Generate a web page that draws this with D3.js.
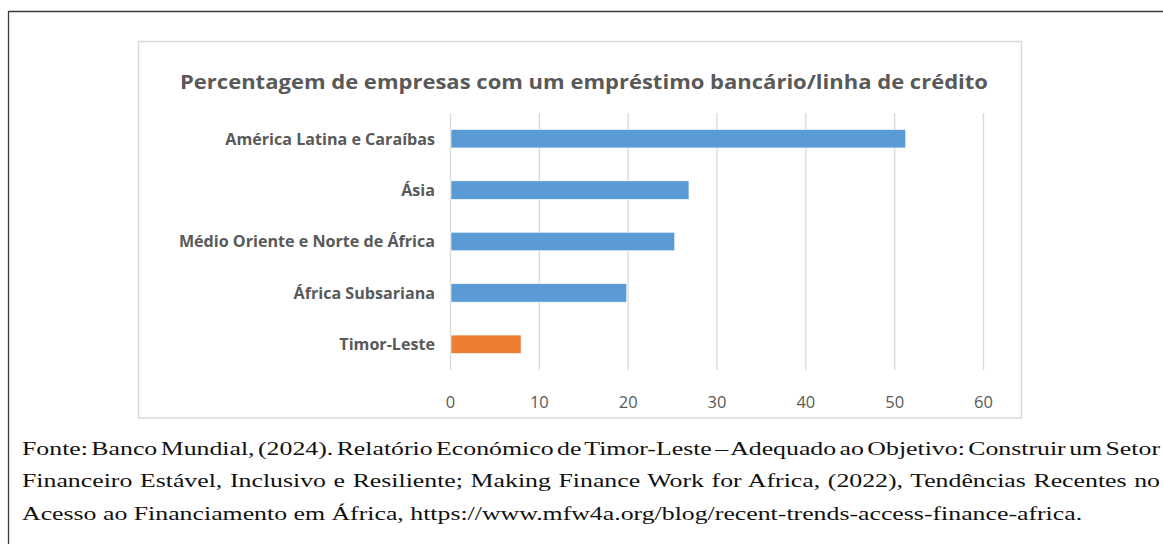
<!DOCTYPE html>
<html>
<head>
<meta charset="utf-8">
<script src="https://cdn.jsdelivr.net/npm/d3@7"></script>
<style>
  html, body { margin: 0; padding: 0; background: #fff; }
  svg { display: block; }
</style>
</head>
<body>
<svg id="chart" width="1163" height="544"></svg>
<script>
const title = "Percentagem de empresas com um empréstimo bancário/linha de crédito";
const categories = ["América Latina e Caraíbas", "Ásia", "Médio Oriente e Norte de África", "África Subsariana", "Timor-Leste"];
const values = [51.3, 26.9, 25.3, 19.9, 8.0];
const highlight = ["Timor-Leste"];
const xTicks = [0, 10, 20, 30, 40, 50, 60];
const captionLines = [
  "Fonte: Banco Mundial, (2024). Relatório Económico de Timor-Leste – Adequado ao Objetivo: Construir um Setor",
  "Financeiro Estável, Inclusivo e Resiliente; Making Finance Work for Africa, (2022), Tendências Recentes no",
  "Acesso ao Financiamento em África, https://www.mfw4a.org/blog/recent-trends-access-finance-africa."
];

const svg = d3.select("#chart");
const textColor = "#595959";
const gridColor = "#d9d9d9";

// outer frame (top and left edges)
svg.append("line").attr("x1", 8.5).attr("y1", 11.5).attr("x2", 1163).attr("y2", 11.5)
  .attr("stroke", "#3a3a3a").attr("stroke-width", 1.3);
svg.append("line").attr("x1", 8.5).attr("y1", 11).attr("x2", 8.5).attr("y2", 544)
  .attr("stroke", "#3a3a3a").attr("stroke-width", 1.3);

// chart area border
svg.append("rect").attr("x", 138.5).attr("y", 41.5).attr("width", 883).attr("height", 376.5)
  .attr("fill", "#fff").attr("stroke", gridColor).attr("stroke-width", 1.5);

// title
svg.append("text")
  .attr("x", 180).attr("y", 89)
  .attr("font-family", "'Open Sans', sans-serif").attr("font-weight", 700)
  .attr("font-size", 20).attr("fill", textColor)
  .attr("textLength", 808).attr("lengthAdjust", "spacingAndGlyphs")
  .text(title);

// scales
const x = d3.scaleLinear().domain([0, 60]).range([450, 983]);
const y = d3.scaleBand().domain(categories).range([113, 370]).paddingInner(0.64).paddingOuter(0.32);

// gridlines
svg.append("g").selectAll("line").data(xTicks).join("line")
  .attr("x1", d => x(d) + 0.5).attr("x2", d => x(d) + 0.5)
  .attr("y1", 113).attr("y2", 370)
  .attr("stroke", gridColor).attr("stroke-width", 1.3);

// bars
svg.append("g").selectAll("rect").data(categories).join("rect")
  .attr("x", x(0) + 1)
  .attr("y", d => y(d))
  .attr("width", (d, i) => x(values[i]) - x(0) - 1)
  .attr("height", y.bandwidth())
  .attr("fill", d => highlight.includes(d) ? "#ED7D31" : "#5B9BD5")
  .attr("stroke", "#fff").attr("stroke-width", 0.6);

// category labels
const labels = svg.append("g").selectAll("text").data(categories).join("text")
  .attr("x", 435)
  .attr("y", d => y(d) + y.bandwidth() / 2)
  .attr("dy", "0.36em")
  .attr("text-anchor", "end")
  .attr("font-family", "'Open Sans', sans-serif").attr("font-weight", 700)
  .attr("font-size", 14).attr("fill", textColor)
  .text(d => d);
{
  const n = labels.nodes()[0];
  const w = n.getComputedTextLength();
  const fs = 14 * 210 / w;
  labels.attr("font-size", fs.toFixed(2));
}

// x tick labels
svg.append("g").selectAll("text").data(xTicks).join("text")
  .attr("x", d => x(d) + 0.5).attr("y", 408)
  .attr("text-anchor", "middle")
  .attr("font-family", "'Open Sans', sans-serif")
  .attr("font-size", 16.5).attr("fill", textColor)
  .text(d => d);

// caption
const cap = svg.append("g");
const capText = cap.selectAll("text").data(captionLines).join("text")
  .attr("x", 0).attr("y", (d, i) => 455 + i * 32.5)
  .attr("font-family", "'Liberation Serif', 'Times New Roman', serif")
  .attr("font-size", 19.5).attr("fill", "#111")
  .text(d => d);
{
  const nodes = capText.nodes();
  const w3 = nodes[2].getComputedTextLength();
  const sx = (1083 - 22) / w3;
  cap.attr("transform", `translate(22,0) scale(${sx},1)`);
  [0, 1].forEach(i => {
    const n = nodes[i];
    const w = n.getComputedTextLength();
    const target = (1160 - 22) / sx;
    const spaces = (captionLines[i].match(/ /g) || []).length;
    d3.select(n).attr("word-spacing", ((target - w) / spaces).toFixed(3));
  });
}
</script>
</body>
</html>
